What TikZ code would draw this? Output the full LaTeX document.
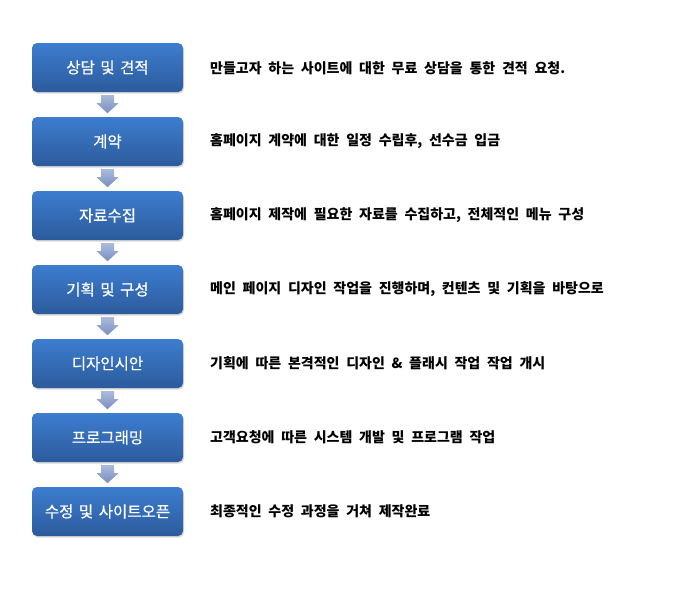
\documentclass[tikz,border=0pt]{standalone}
\usepackage{fontspec}
\newfontfamily\krfont[WordSpace=2.1]{Noto Sans CJK KR}
\newfontfamily\krboxfont[WordSpace=1.6,FakeBold=0.6]{Noto Sans CJK KR}
\usetikzlibrary{shadows,calc}
\definecolor{boxtop}{HTML}{3D7DCF}
\definecolor{boxbot}{HTML}{2C5B9C}
\definecolor{arrtop}{HTML}{AABADD}
\definecolor{arrbot}{HTML}{7A8FC0}
\tikzset{
  stepbox/.style={rectangle, rounded corners=5pt, minimum width=151pt, minimum height=49pt,
    top color=boxtop, bottom color=boxbot, draw=none, text=white,
    font=\krboxfont\fontsize{15.5}{17}\selectfont,
    drop shadow={shadow xshift=1pt, shadow yshift=-1.5pt, opacity=0.3}},
  desc/.style={anchor=west, inner sep=0pt, text=black, font=\krfont\bfseries\fontsize{14}{16}\selectfont},
}
\newcommand{\downarrowshape}[1]{%
  \shade[top color=arrtop, bottom color=arrbot]
    ($(#1.south)+(-6.5,3)$) -- ($(#1.south)+(6.5,3)$) -- ($(#1.south)+(6.5,11)$) --
    ($(#1.south)+(11,11)$) -- ($(#1.south)+(0,21)$) -- ($(#1.south)+(-11,11)$) --
    ($(#1.south)+(-6.5,11)$) -- cycle;}
\begin{document}
\begin{tikzpicture}[x=1pt,y=-1pt]
\useasboundingbox (0,0) rectangle (700,600);
\fill[white] (0,0) rectangle (700,600);
\node[stepbox] (b1) at (107.5,67.5) {상담 및 견적};
\node[stepbox] (b2) at (107.5,141.5) {계약};
\node[stepbox] (b3) at (107.5,215.5) {자료수집};
\node[stepbox] (b4) at (107.5,289.5) {기획 및 구성};
\node[stepbox] (b5) at (107.5,363.5) {디자인시안};
\node[stepbox] (b6) at (107.5,437.5) {프로그래밍};
\node[stepbox] (b7) at (107.5,511.5) {수정 및 사이트오픈};
\downarrowshape{b1}
\downarrowshape{b2}
\downarrowshape{b3}
\downarrowshape{b4}
\downarrowshape{b5}
\downarrowshape{b6}
\node[desc] (t1) at (210,68.5) {만들고자 하는 사이트에 대한 무료 상담을 통한 견적 요청.};
\node[desc] (t2) at (210,141) {홈페이지 계약에 대한 일정 수립후, 선수금 입금};
\node[desc] (t3) at (210,215) {홈페이지 제작에 필요한 자료를 수집하고, 전체적인 메뉴 구성};
\node[desc] (t4) at (210,289) {메인 페이지 디자인 작업을 진행하며, 컨텐츠 및 기획을 바탕으로};
\node[desc] (t5) at (210,363) {기획에 따른 본격적인 디자인 \& 플래시 작업 작업 개시};
\node[desc] (t6) at (210,437) {고객요청에 따른 시스템 개발 및 프로그램 작업};
\node[desc] (t7) at (210,511) {최종적인 수정 과정을 거쳐 제작완료};
\end{tikzpicture}
\end{document}
